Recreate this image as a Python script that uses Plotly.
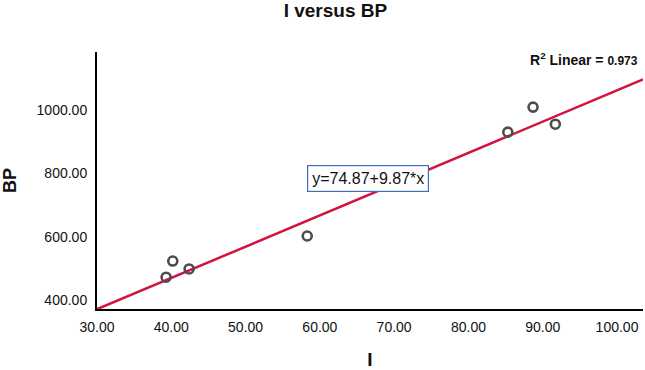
import plotly.graph_objects as go

# Data
I_values = [39.3, 40.2, 42.4, 58.3, 85.3, 88.7, 91.7]
BP_values = [472, 523, 498, 602, 930, 1009, 955]
intercept = 74.87
slope = 9.87
r2_text = "0.973"
x_tick_vals = [30, 40, 50, 60, 70, 80, 90, 100]
y_tick_vals = [400, 600, 800, 1000]

x_range = [30, 103.5]
y_range = [371.6, 1183]

FONT = "Liberation Sans, Arial, sans-serif"

fig = go.Figure()

fit_x = list(x_range)
fit_y = [intercept + slope * v for v in fit_x]
fig.add_trace(go.Scatter(
    x=fit_x, y=fit_y, mode="lines",
    line=dict(color="#d2123f", width=2.5),
    showlegend=False, hoverinfo="skip", cliponaxis=True,
))

fig.add_trace(go.Scatter(
    x=I_values, y=BP_values, mode="markers",
    marker=dict(symbol="circle-open", size=9, color="#4d4d4d",
                line=dict(width=2.6, color="#4d4d4d")),
    showlegend=False,
))

fig.update_layout(
    width=645, height=370,
    margin=dict(l=97, r=2, t=52, b=61),
    paper_bgcolor="white", plot_bgcolor="white",
    font=dict(family=FONT, color="#111111", size=14),
    title=dict(text="<b>I versus BP</b>", x=0.52, xanchor="center",
               y=0.972, yanchor="middle",
               font=dict(family=FONT, size=19, color="#111111")),
    xaxis=dict(
        range=x_range, tickvals=x_tick_vals, tickformat=".2f",
        showgrid=False, zeroline=False, showline=True,
        linecolor="black", linewidth=2, ticks="", automargin=False,
        ticklabelstandoff=4,
        tickfont=dict(family=FONT, size=14, color="#111111"),
        title=dict(text="<b>I</b>", font=dict(family=FONT, size=19, color="#111111"),
                   standoff=23),
    ),
    yaxis=dict(
        range=y_range, tickvals=y_tick_vals, tickformat=".2f",
        showgrid=False, zeroline=False, showline=True,
        linecolor="black", linewidth=2, ticks="", automargin=False,
        ticklabelstandoff=5,
        tickfont=dict(family=FONT, size=14, color="#111111"),
        title=dict(text="<b>BP</b>", font=dict(family=FONT, size=18, color="#111111"),
                   standoff=20),
    ),
    annotations=[
        dict(x=66.5, y=785, xref="x", yref="y",
             text="y=74.87+9.87*x", showarrow=False,
             font=dict(family=FONT, size=16, color="#111111"),
             bordercolor="#3f6fb5", borderwidth=1.2, borderpad=4,
             bgcolor="white"),
        dict(x=0.995, y=1160, xref="paper", yref="y",
             xanchor="right", yanchor="middle",
             text="<b>R<sup>2</sup> Linear = </b><b><span style='font-size:12px'>" + r2_text + "</span></b>",
             showarrow=False,
             font=dict(family=FONT, size=14, color="#111111")),
    ],
)

fig.write_html(
    "out.html",
    config={"displayModeBar": False},
    post_script="document.body.style.margin='0';document.body.style.overflow='hidden';",
)
